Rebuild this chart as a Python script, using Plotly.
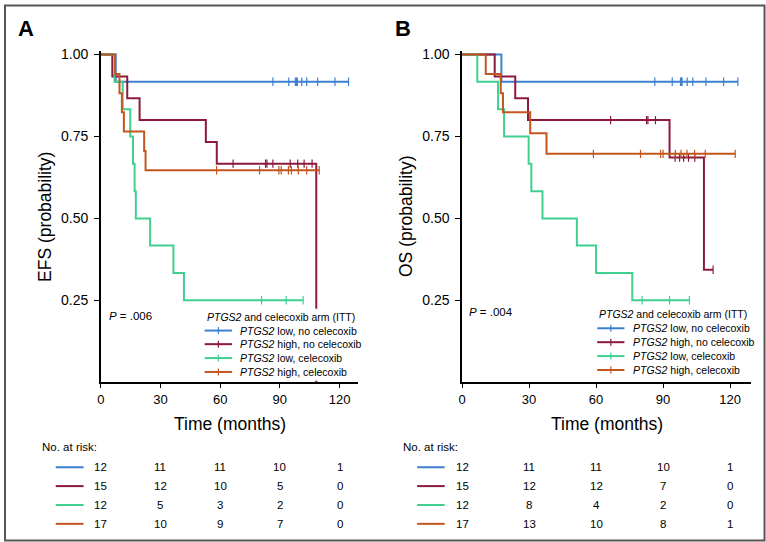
import numpy as np
import plotly.graph_objects as go

W, H = 766, 542
FONT = "Liberation Sans, Arial, sans-serif"

group_names = ["low, no celecoxib", "high, no celecoxib", "low, celecoxib", "high, celecoxib"]
colors = ["#3d7fd1", "#8b1a3c", "#3fcf8f", "#c2561f"]

# ---------------- Panel A : EFS ----------------
efs_blue_t = [0, 7.5]
efs_blue_s = [1.0, 0.917]
efs_blue_c = [86.5, 94.5, 97.8, 98.3, 98.8, 101.0, 103.5, 109.0, 117.7, 124.5]

efs_red_t = [0, 5.8, 13.3, 19.5, 52.8, 58.3, 108.3]
efs_red_s = [1.0, 0.933, 0.867, 0.800, 0.733, 0.667, 0.0]
efs_red_c = [66.5, 82.8, 83.5, 86.5, 95.2, 99.0, 102.2, 106.2]

efs_green_t = [0, 6.9, 11.0, 14.8, 16.2, 17.0, 17.6, 24.8, 36.5, 41.8]
efs_green_s = [1.0, 0.917, 0.833, 0.750, 0.667, 0.583, 0.500, 0.417, 0.333, 0.250]
efs_green_c = [80.8, 93.2, 101.7]

efs_orange_t = [0, 7.2, 9.4, 10.6, 11.6, 21.8, 22.5]
efs_orange_s = [1.0, 0.941, 0.882, 0.824, 0.765, 0.706, 0.647]
efs_orange_c = [58.2, 79.8, 89.5, 90.7, 94.3, 95.8, 99.3, 103.5, 109.8]

# ---------------- Panel B : OS ----------------
os_blue_t = [0, 17.6]
os_blue_s = [1.0, 0.917]
os_blue_c = [86.3, 94.1, 97.8, 98.2, 98.5, 100.8, 103.3, 109.2, 117.1, 123.5]

os_red_t = [0, 14.6, 23.8, 29.5, 92.9, 108.3]
os_red_s = [1.0, 0.933, 0.867, 0.800, 0.686, 0.343]
os_red_c = [66.5, 82.6, 83.2, 86.6, 95.4, 97.4, 99.2, 101.4, 104.2, 112.4]

os_green_t = [0, 6.8, 16.1, 18.8, 29.8, 31.0, 36.0, 51.4, 60.0, 76.2]
os_green_s = [1.0, 0.917, 0.833, 0.750, 0.667, 0.583, 0.500, 0.417, 0.333, 0.250]
os_green_c = [80.6, 92.9, 101.8]

os_orange_t = [0, 10.6, 17.3, 18.3, 30.5, 37.8]
os_orange_s = [1.0, 0.941, 0.882, 0.824, 0.760, 0.697]
os_orange_c = [58.8, 79.9, 88.9, 90.0, 95.5, 98.0, 100.7, 104.1, 108.9, 122.3]

# ---------------- Risk tables ----------------
risk_times = [0, 30, 60, 90, 120]
efs_risk = [
    [12, 11, 11, 10, 1],
    [15, 12, 10, 5, 0],
    [12, 5, 3, 2, 0],
    [17, 10, 9, 7, 0],
]
os_risk = [
    [12, 11, 11, 10, 1],
    [15, 12, 12, 7, 0],
    [12, 8, 4, 2, 0],
    [17, 13, 10, 8, 1],
]
x_ticks = [0, 30, 60, 90, 120]
y_ticks = [0.25, 0.50, 0.75, 1.00]
y_ticktext = ["0.25", "0.50", "0.75", "1.00"]

panels = [
    dict(curves=[(efs_blue_t, efs_blue_s, efs_blue_c), (efs_red_t, efs_red_s, efs_red_c),
                 (efs_green_t, efs_green_s, efs_green_c), (efs_orange_t, efs_orange_s, efs_orange_c)],
         risk=efs_risk, xa="x", ya="y", ytitle="EFS (probability)", label="A", p="= .006"),
    dict(curves=[(os_blue_t, os_blue_s, os_blue_c), (os_red_t, os_red_s, os_red_c),
                 (os_green_t, os_green_s, os_green_c), (os_orange_t, os_orange_s, os_orange_c)],
         risk=os_risk, xa="x2", ya="y2", ytitle="OS (probability)", label="B", p="= .004"),
]


def px(x):
    return x / W


def py(y):
    return 1 - y / H


fig = go.Figure()
for pan in panels:
    for (t, s, c), col in zip(pan["curves"], colors):
        t = np.asarray(t, float)
        s = np.asarray(s, float)
        c = np.asarray(c, float)
        end = max(t[-1], c.max() if len(c) else t[-1])
        xs = list(t) + ([end] if end > t[-1] else [])
        ys = list(s) + ([s[-1]] if end > t[-1] else [])
        fig.add_trace(go.Scatter(x=xs, y=ys, mode="lines", line=dict(color=col, width=2, shape="hv"),
                                 xaxis=pan["xa"], yaxis=pan["ya"], showlegend=False, hoverinfo="skip"))
        cy = s[np.searchsorted(t, c, side="right") - 1]
        fig.add_trace(go.Scatter(x=c, y=cy, mode="markers",
                                 marker=dict(symbol="line-ns-open", size=6, color=col,
                                             line=dict(color=col, width=1.2)),
                                 xaxis=pan["xa"], yaxis=pan["ya"], showlegend=False, hoverinfo="skip"))

ydom = [py(381), py(47)]
axis_common = dict(showgrid=False, zeroline=False, showline=True, linecolor="black", linewidth=1.5,
                   ticks="outside", tickcolor="black", tickwidth=1.3)
xfont = dict(size=13, color="black", family=FONT)
yfont = dict(size=14, color="black", family=FONT)
fig.update_layout(
    width=W, height=H, margin=dict(l=0, r=0, t=0, b=0),
    paper_bgcolor="white", plot_bgcolor="white",
    font=dict(family=FONT, color="black"),
    xaxis=dict(domain=[px(97.3), px(356.3)], range=[0, 129.5], tickvals=x_ticks, ticklen=4, anchor="y",
               tickfont=xfont, **axis_common),
    yaxis=dict(domain=ydom, range=[0, 1.012], tickvals=y_ticks, ticktext=y_ticktext, ticklen=5, anchor="x",
               tickfont=yfont, ticklabelstandoff=3, **axis_common),
    xaxis2=dict(domain=[px(460.5), px(751.2)], range=[0, 129.5], tickvals=x_ticks, ticklen=4, anchor="y2",
                tickfont=xfont, **axis_common),
    yaxis2=dict(domain=ydom, range=[0, 1.012], tickvals=y_ticks, ticktext=y_ticktext, ticklen=5, anchor="x2",
                tickfont=yfont, ticklabelstandoff=3, **axis_common),
    showlegend=False,
)

shapes = []
ann = []
# outer frame
shapes.append(dict(type="rect", xref="paper", yref="paper", x0=px(1), x1=px(764.5), y0=py(540.5), y1=py(1.5),
                   line=dict(color="#555555", width=2), layer="above"))

layout_px = [
    dict(label_x=22, ytitle_x=41.7, xcenter=226.8, p_x=104, p_y=314.3, leg_x0=201.7, leg_x1=229.3,
         leg_tx=235, leg_title_y=315, leg_rows=[329, 342.7, 356.7, 370.7], risk_lab_x=35.7,
         risk_l0=52, risk_l1=80, white=True),
    dict(label_x=401, ytitle_x=404.7, xcenter=606, p_x=465.7, p_y=310, leg_x0=596.3, leg_x1=623.7,
         leg_tx=630.7, leg_title_y=312.7, leg_rows=[326.7, 340.7, 354.7, 368.7], risk_lab_x=398.7,
         risk_l0=415.3, risk_l1=443, white=False),
]
risk_rows_y = [466.7, 485.7, 504.7, 523.7]

for pan, L in zip(panels, layout_px):
    ann.append(dict(text="<b>%s</b>" % pan["label"], x=px(L["label_x"]), y=py(25), xref="paper", yref="paper",
                    showarrow=False, xanchor="center", yanchor="middle", font=dict(size=22, family=FONT)))
    ann.append(dict(text=pan["ytitle"], x=px(L["ytitle_x"]), y=py(214), xref="paper", yref="paper", textangle=-90,
                    showarrow=False, xanchor="center", yanchor="middle", font=dict(size=17.5, family=FONT)))
    ann.append(dict(text="Time (months)", x=px(L["xcenter"]), y=py(423.3), xref="paper", yref="paper",
                    showarrow=False, xanchor="center", yanchor="middle", font=dict(size=17.5, family=FONT)))
    ann.append(dict(text="<i>P</i> " + pan["p"], x=px(L["p_x"]), y=py(L["p_y"]), xref="paper", yref="paper",
                    showarrow=False, xanchor="left", yanchor="middle", font=dict(size=11.5, family=FONT)))
    if L["white"]:
        shapes.append(dict(type="rect", xref="paper", yref="paper", x0=px(197), x1=px(354), y0=py(379.6), y1=py(307),
                           fillcolor="white", line=dict(width=0), layer="above"))
    ann.append(dict(text="<i>PTGS2</i> and celecoxib arm (ITT)", x=px(L["leg_x0"]), y=py(L["leg_title_y"]),
                    xref="paper", yref="paper", showarrow=False, xanchor="left", yanchor="middle",
                    font=dict(size=10.5, family=FONT)))
    for name, col, ry in zip(group_names, colors, L["leg_rows"]):
        shapes.append(dict(type="line", xref="paper", yref="paper", x0=px(L["leg_x0"]), x1=px(L["leg_x1"]),
                           y0=py(ry), y1=py(ry), line=dict(color=col, width=2), layer="above"))
        xm = (L["leg_x0"] + L["leg_x1"]) / 2
        shapes.append(dict(type="line", xref="paper", yref="paper", x0=px(xm), x1=px(xm),
                           y0=py(ry - 3.5), y1=py(ry + 3.5), line=dict(color=col, width=1.2), layer="above"))
        ann.append(dict(text="<i>PTGS2</i> " + name, x=px(L["leg_tx"]), y=py(ry), xref="paper", yref="paper",
                        showarrow=False, xanchor="left", yanchor="middle", font=dict(size=10.5, family=FONT)))
    ann.append(dict(text="No. at risk:", x=px(L["risk_lab_x"]), y=py(446.7), xref="paper", yref="paper",
                    showarrow=False, xanchor="left", yanchor="middle", font=dict(size=11.5, family=FONT)))
    for row, col, ry in zip(pan["risk"], colors, risk_rows_y):
        shapes.append(dict(type="line", xref="paper", yref="paper", x0=px(L["risk_l0"]), x1=px(L["risk_l1"]),
                           y0=py(ry), y1=py(ry), line=dict(color=col, width=2)))
        for tt, n in zip(risk_times, row):
            ann.append(dict(text=str(n), x=tt, y=py(ry), xref=pan["xa"], yref="paper", showarrow=False,
                            xanchor="center", yanchor="middle", font=dict(size=11.5, family=FONT)))

fig.update_layout(shapes=shapes, annotations=ann)
fig.write_html("out.html", config={"displayModeBar": False},
               post_script="document.body.style.margin='0';document.body.style.overflow='hidden';")
